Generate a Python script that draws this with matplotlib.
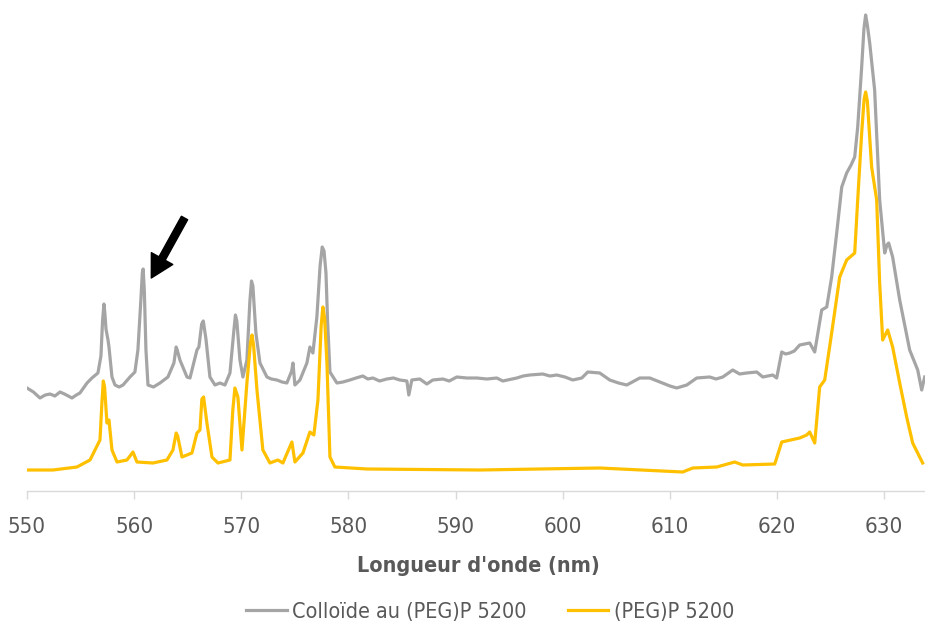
import matplotlib
matplotlib.use("Agg")
import matplotlib.pyplot as plt

# wavelength (nm) / intensity (a.u.)
gris_nm = [550.00, 550.60, 551.21, 551.70, 552.15, 552.60, 553.08, 553.50, 554.20, 554.60,
           554.94, 555.60, 556.06, 556.62, 556.90, 557.05, 557.18, 557.28, 557.37, 557.56,
           557.65, 557.93, 558.21, 558.60, 558.96, 559.61, 560.07, 560.35, 560.62, 560.76,
           560.84, 560.95, 561.10, 561.29, 561.80, 562.41, 563.15, 563.71, 563.92, 564.02,
           564.27, 564.93, 565.21, 565.86, 566.04, 566.30, 566.45, 566.70, 567.07, 567.54,
           568.00, 568.47, 568.94, 569.30, 569.45, 569.58, 569.87, 570.15, 570.52, 570.80,
           570.95, 571.08, 571.36, 571.74, 572.39, 572.80, 573.32, 573.80, 574.25, 574.70,
           574.82, 575.00, 575.47, 576.12, 576.40, 576.68, 577.05, 577.35, 577.55, 577.72,
           577.90, 578.05, 578.27, 578.92, 579.48, 580.13, 580.70, 581.34, 581.80, 582.28,
           582.90, 583.58, 584.20, 584.79, 585.45, 585.63, 585.91, 586.66, 587.31, 587.87,
           588.81, 589.40, 590.11, 591.04, 591.98, 592.91, 593.84, 594.40, 595.71, 596.30,
           596.92, 598.13, 598.80, 599.44, 600.20, 600.93, 601.77, 602.33, 603.45, 604.38,
           605.20, 605.97, 607.18, 608.12, 609.05, 610.00, 610.63, 611.57, 612.50, 613.71,
           614.30, 614.93, 615.86, 616.50, 617.16, 618.10, 618.66, 619.59, 619.96, 620.43,
           620.80, 621.18, 621.60, 622.11, 622.60, 623.04, 623.51, 623.80, 624.16, 624.63,
           625.09, 625.56, 626.03, 626.49, 626.90, 627.24, 627.52, 627.89, 628.10, 628.26,
           628.42, 628.64, 629.10, 629.57, 630.04, 630.25, 630.41, 630.78, 631.44, 632.37,
           633.12, 633.49, 633.77]
gris_int = [103, 99, 93, 96, 97, 95, 99, 97, 93, 96,
            98, 108, 113, 118, 135, 170, 187, 176, 162, 151,
            144, 114, 106, 104, 106, 114, 119, 141, 190, 218,
            222, 200, 141, 106, 104, 108, 114, 128, 144, 141,
            131, 114, 113, 141, 144, 167, 170, 152, 114, 106,
            108, 106, 118, 160, 176, 170, 131, 114, 131, 190,
            210, 205, 158, 128, 114, 112, 111, 109, 108, 120,
            128, 106, 111, 128, 144, 138, 174, 225, 244, 240,
            218, 170, 119, 108, 109, 111, 113, 115, 112, 113,
            110, 112, 113, 111, 110, 96, 111, 112, 107, 111,
            112, 110, 114, 113, 113, 112, 113, 110, 113, 115,
            116, 117, 115, 116, 114, 111, 113, 119, 118, 111,
            108, 106, 113, 113, 109, 105, 103, 106, 113, 114,
            112, 114, 121, 117, 118, 119, 114, 116, 113, 139,
            137, 138, 140, 146, 147, 148, 139, 158, 181, 184,
            214, 258, 304, 318, 326, 334, 364, 424, 462, 476,
            466, 448, 401, 291, 238, 246, 248, 234, 191, 141,
            121, 101, 114]

jaune_nm = [550.00, 552.43, 554.66, 555.88, 556.81, 557.00, 557.12, 557.24, 557.46, 557.65,
            557.93, 558.40, 559.33, 559.89, 560.26, 561.75, 563.06, 563.62, 563.92, 564.06,
            564.46, 565.39, 565.86, 566.14, 566.32, 566.48, 566.79, 567.26, 567.82, 568.94,
            569.20, 569.40, 569.68, 570.06, 570.52, 570.85, 571.00, 571.15, 571.46, 572.01,
            572.67, 573.41, 573.88, 574.72, 575.00, 575.75, 576.40, 576.77, 577.15, 577.45,
            577.61, 577.78, 577.99, 578.27, 578.73, 581.72, 592.26, 603.45, 611.19, 612.13,
            614.37, 616.04, 616.79, 619.78, 620.43, 622.11, 622.76, 623.04, 623.51, 623.97,
            624.44, 625.09, 625.84, 626.49, 627.24, 627.52, 627.89, 628.12, 628.26, 628.42,
            628.82, 629.29, 629.57, 629.85, 630.32, 630.78, 631.44, 632.09, 632.65, 633.58]
jaune_int = [21, 21, 24, 31, 51, 90, 110, 104, 68, 71,
             41, 29, 31, 39, 29, 28, 31, 41, 58, 55,
             34, 38, 58, 61, 92, 94, 68, 34, 28, 31,
             80, 103, 94, 41, 108, 148, 156, 145, 101, 41,
             28, 31, 28, 49, 29, 38, 59, 56, 91, 165,
             184, 172, 128, 34, 24, 22, 21, 23, 19, 23,
             24, 29, 26, 27, 49, 53, 56, 59, 48, 104,
             111, 158, 214, 231, 238, 291, 358, 392, 399, 390,
             324, 291, 208, 151, 161, 144, 108, 74, 48, 28]

ticks = [550, 560, 570, 580, 590, 600, 610, 620, 630]

plt.rcParams['font.family'] = ['DejaVu Sans']
plt.rcParams['font.stretch'] = 'condensed'

fig = plt.figure(figsize=(9.25, 6.32), dpi=100)
ax = fig.add_axes([27 / 925, 1 - 491 / 632, 898 / 925, 491 / 632])

ax.plot(gris_nm, gris_int, color='#a5a5a5', lw=2.3, label='Colloïde au (PEG)P 5200')
ax.plot(jaune_nm, jaune_int, color='#ffc000', lw=2.3, label='(PEG)P 5200')

# arrow pointing to the extra peak
ax.annotate('', xy=(561.6, 213), xytext=(564.7, 273),
            arrowprops=dict(arrowstyle='simple,head_length=1.0,head_width=1.1,tail_width=0.32',
                            color='black', mutation_scale=16, shrinkA=0, shrinkB=0))

ax.set_xlim(550, 633.8)
ax.set_ylim(0, 491)
ax.set_xticks(ticks)
ax.set_yticks([])
for s in ['left', 'top', 'right']:
    ax.spines[s].set_visible(False)
ax.spines['bottom'].set_color('#d9d9d9')
ax.spines['bottom'].set_linewidth(1)
ax.tick_params(axis='x', length=6, width=1, color='#d9d9d9', labelsize=16,
               labelcolor='#595959', pad=13)

fig.text(478 / 925, 1 - 566 / 632, "Longueur d'onde (nm)", ha='center', va='center',
         fontsize=15.5, fontweight='bold', color='#595959')

fig.legend(loc='center', bbox_to_anchor=(490 / 925, 1 - 612 / 632), ncol=2, frameon=False,
           fontsize=15.5, handlelength=1.9, columnspacing=1.9, handletextpad=0.25,
           labelcolor='#595959')

fig.savefig('out.png', dpi=100)
